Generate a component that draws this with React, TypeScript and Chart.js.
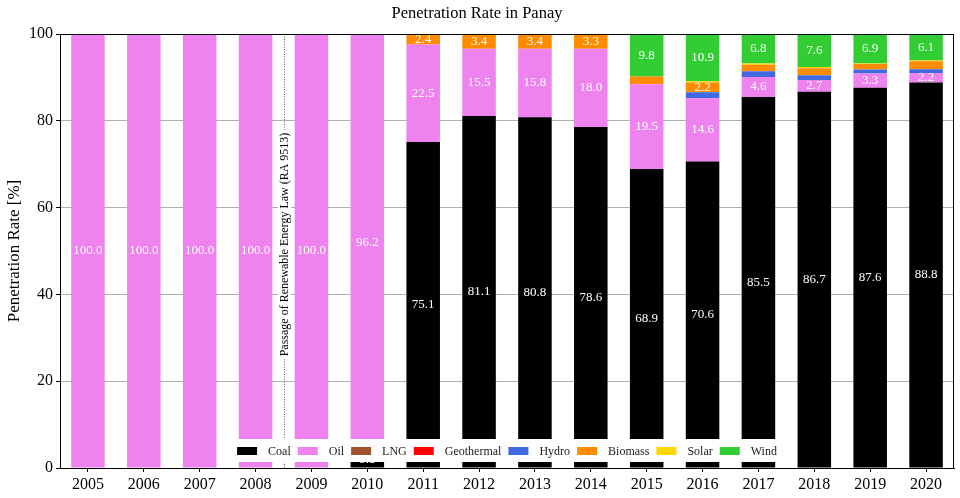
import React, { useEffect, useRef } from 'react';
import { Chart, registerables } from 'chart.js';

Chart.register(...registerables);

const years = ['2005', '2006', '2007', '2008', '2009', '2010', '2011', '2012', '2013', '2014', '2015', '2016', '2017', '2018', '2019', '2020'];
const coal = [0, 0, 0, 0, 0, 3.8, 75.1, 81.1, 80.8, 78.6, 68.9, 70.6, 85.5, 86.7, 87.6, 88.8];
const oil = [100, 100, 100, 100, 100, 96.2, 22.5, 15.5, 15.8, 18.0, 19.5, 14.6, 4.6, 2.7, 3.3, 2.2];
const lng = [0, 0, 0, 0, 0, 0, 0, 0, 0, 0, 0, 0, 0, 0, 0, 0];
const geothermal = [0, 0, 0, 0, 0, 0, 0, 0, 0, 0, 0, 0, 0, 0, 0, 0];
const hydro = [0, 0, 0, 0, 0, 0, 0, 0, 0, 0, 0, 1.4, 1.3, 1.1, 0.9, 0.9];
const biomass = [0, 0, 0, 0, 0, 0, 2.4, 3.4, 3.4, 3.3, 1.8, 2.2, 1.5, 1.6, 1.3, 1.8];
const solar = [0, 0, 0, 0, 0, 0, 0, 0, 0, 0, 0, 0.3, 0.3, 0.3, 0.1, 0.2];
const wind = [0, 0, 0, 0, 0, 0, 0, 0, 0, 0, 9.8, 10.9, 6.8, 7.6, 6.9, 6.1];

const seriesNames = ['Coal', 'Oil', 'LNG', 'Geothermal', 'Hydro', 'Biomass', 'Solar', 'Wind'];
const seriesValues = [coal, oil, lng, geothermal, hydro, biomass, solar, wind];
const seriesColors = ['#000000', '#ee82ee', '#a0522d', '#ff0000', '#4169e1', '#ff8c00', '#ffd700', '#32cd32'];

const titleText = 'Penetration Rate in Panay';
const yTitleText = 'Penetration Rate [%]';
const annotationText = 'Passage of Renewable Energy Law (RA 9513)';
const annotationAfterIndex = 3; // between 2008 and 2009
const annotationTextValue = 51.5;
const labelThreshold = 2;
const FONT = "'Liberation Serif', serif";

const labelsPlugin = {
  id: 'barLabels',
  afterDatasetsDraw(chart: any) {
    const ctx = chart.ctx;
    ctx.save();
    ctx.font = `13px ${FONT}`;
    ctx.fillStyle = '#ffffff';
    ctx.textAlign = 'center';
    ctx.textBaseline = 'middle';
    chart.data.datasets.forEach((ds: any, i: number) => {
      const meta = chart.getDatasetMeta(i);
      meta.data.forEach((bar: any, j: number) => {
        const v = ds.data[j];
        if (v > labelThreshold) {
          const p = bar.getProps(['x', 'y', 'base'], true);
          ctx.fillText(v.toFixed(1), p.x, (p.y + p.base) / 2);
        }
      });
    });
    ctx.restore();
  },
};

const annotationPlugin = {
  id: 'annot',
  afterDatasetsDraw(chart: any) {
    const ctx = chart.ctx;
    const xs = chart.scales.x;
    const ys = chart.scales.y;
    const area = chart.chartArea;
    const x = (xs.getPixelForValue(annotationAfterIndex) + xs.getPixelForValue(annotationAfterIndex + 1)) / 2;
    ctx.save();
    ctx.strokeStyle = '#333333';
    ctx.lineWidth = 0.8;
    ctx.setLineDash([1, 1.5]);
    ctx.beginPath();
    ctx.moveTo(Math.round(x) + 0.5, area.top);
    ctx.lineTo(Math.round(x) + 0.5, area.bottom);
    ctx.stroke();
    ctx.setLineDash([]);
    const cy = ys.getPixelForValue(annotationTextValue);
    ctx.font = `12px ${FONT}`;
    const w = ctx.measureText(annotationText).width;
    ctx.translate(Math.round(x) + 0.5, cy);
    ctx.rotate(-Math.PI / 2);
    ctx.fillStyle = '#ffffff';
    ctx.fillRect(-w / 2 - 3, -6.5, w + 6, 13);
    ctx.fillStyle = '#000000';
    ctx.textAlign = 'center';
    ctx.textBaseline = 'middle';
    ctx.fillText(annotationText, 0, 0.5);
    ctx.restore();
  },
};

const legendPlugin = {
  id: 'innerLegend',
  afterDatasetsDraw(chart: any) {
    const ctx = chart.ctx;
    const area = chart.chartArea;
    ctx.save();
    ctx.font = `12px ${FONT}`;
    const boxW = 20, boxH = 8, gapText = 11, gapItem = 7;
    const widths = chart.data.datasets.map((d: any) => ctx.measureText(d.label).width);
    let total = 0;
    widths.forEach((w: number, i: number) => {
      total += boxW + gapText + w + (i < widths.length - 1 ? gapItem : 0);
    });
    const cx = (area.left + area.right) / 2;
    let x = cx - total / 2;
    const cy = area.bottom - 17;
    ctx.fillStyle = '#ffffff';
    ctx.fillRect(x - 7, area.bottom - 29, total + 14, 23);
    ctx.textBaseline = 'middle';
    ctx.textAlign = 'left';
    chart.data.datasets.forEach((d: any, i: number) => {
      ctx.fillStyle = d.backgroundColor;
      ctx.fillRect(x, cy - boxH / 2, boxW, boxH);
      ctx.fillStyle = '#222222';
      ctx.fillText(d.label, x + boxW + gapText, cy + 1);
      x += boxW + gapText + widths[i] + gapItem;
    });
    ctx.restore();
  },
};

const framePlugin = {
  id: 'frame',
  afterDraw(chart: any) {
    const ctx = chart.ctx;
    const a = chart.chartArea;
    ctx.save();
    ctx.strokeStyle = '#000000';
    ctx.lineWidth = 1;
    ctx.strokeRect(Math.round(a.left) + 0.5, Math.round(a.top) + 0.5, Math.round(a.right - a.left) - 1, Math.round(a.bottom - a.top));
    ctx.restore();
  },
};

export default function App() {
  const ref = useRef<HTMLCanvasElement | null>(null);
  useEffect(() => {
    if (!ref.current) return;
    const chart = new Chart(ref.current, {
      type: 'bar',
      data: {
        labels: years,
        datasets: seriesNames.map((name, i) => ({
          label: name,
          data: seriesValues[i],
          backgroundColor: seriesColors[i],
          borderWidth: 0,
          barPercentage: 0.6,
          categoryPercentage: 1.0,
          stack: 'all',
        })),
      },
      options: {
        animation: false,
        responsive: true,
        maintainAspectRatio: false,
        layout: { padding: { left: 0, right: 6, top: 0, bottom: 0 } },
        plugins: {
          legend: { display: false },
          tooltip: { enabled: false },
          title: {
            display: true,
            text: titleText,
            color: '#000000',
            font: { family: FONT, size: 16.5, weight: 'normal' },
            padding: { top: 4, bottom: 10.2 },
          },
        },
        scales: {
          x: {
            stacked: true,
            offset: true,
            grid: { display: true, drawOnChartArea: false, offset: false, tickLength: 4, tickColor: '#000000' },
            border: { display: true, color: '#000000' },
            ticks: { color: '#000000', font: { family: FONT, size: 16 }, padding: 3, maxRotation: 0 },
            afterFit(s: any) { s.height = 30; },
          },
          y: {
            stacked: true,
            min: 0,
            max: 100,
            ticks: { stepSize: 20, color: '#000000', font: { family: FONT, size: 16 }, padding: 3 },
            grid: { color: '#b0b0b0', lineWidth: 1, tickLength: 4, tickColor: '#000000' },
            border: { display: true, color: '#000000' },
            title: {
              display: true,
              text: yTitleText,
              color: '#000000',
              font: { family: FONT, size: 17, weight: 'normal' },
              padding: { top: 4, bottom: 0 },
            },
            afterFit(s: any) { s.width = 60; },
          },
        },
      },
      plugins: [labelsPlugin, annotationPlugin, legendPlugin, framePlugin],
    } as any);
    return () => chart.destroy();
  }, []);
  return (
    <div style={{ position: 'absolute', left: 0, top: 0, width: 960, height: 498, background: '#ffffff' }}>
      <canvas ref={ref} />
    </div>
  );
}
